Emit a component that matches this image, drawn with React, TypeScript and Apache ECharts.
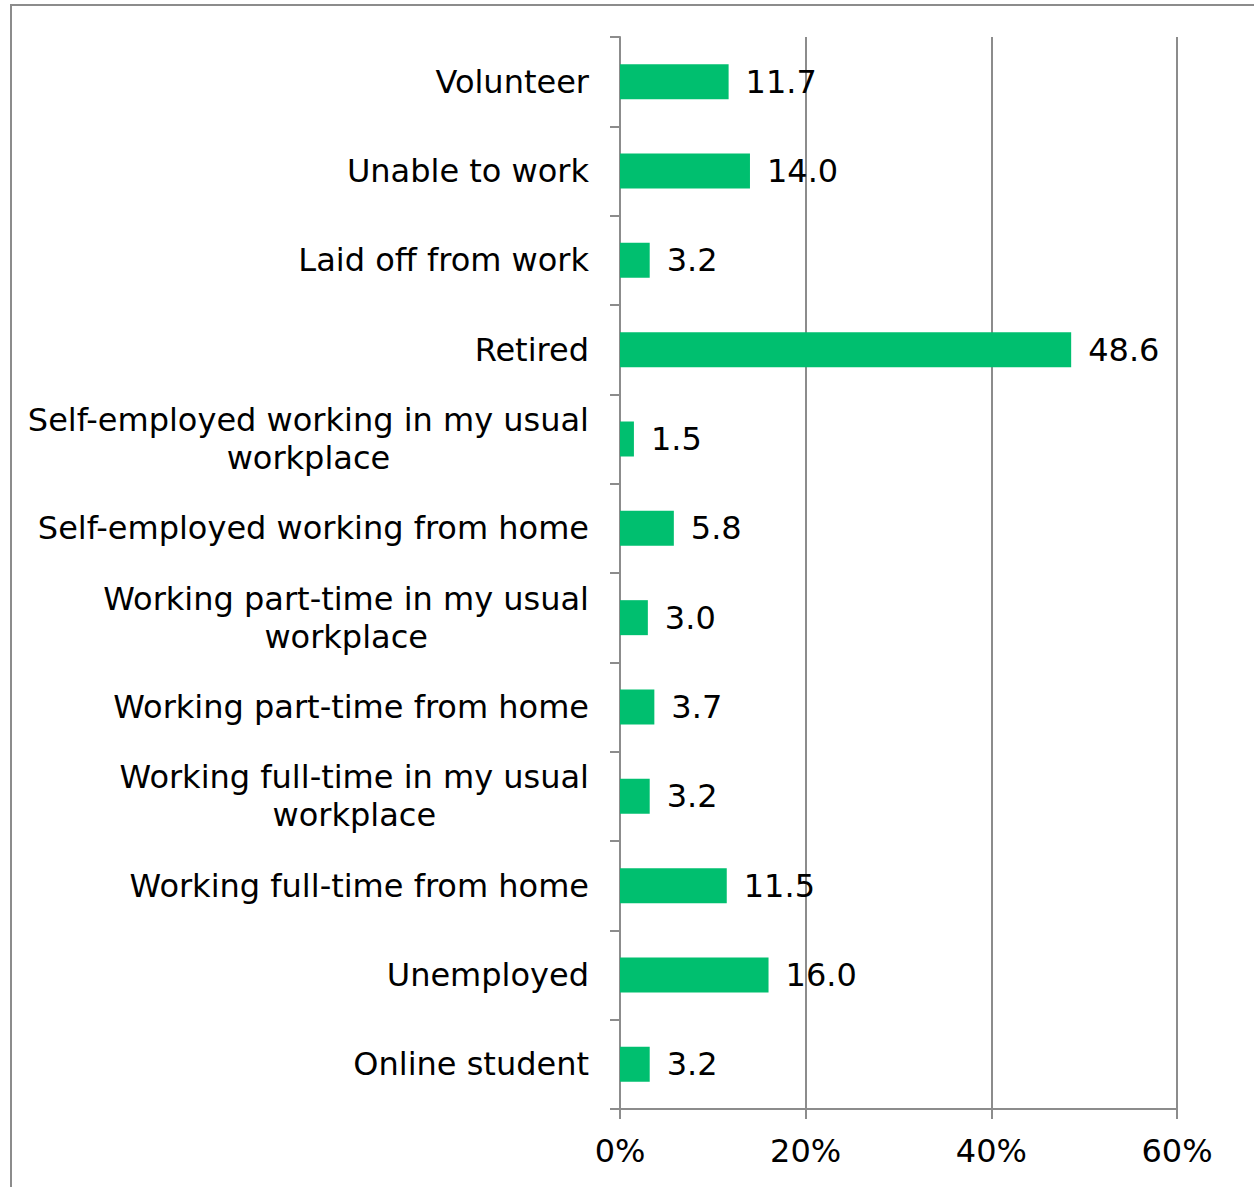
import React, { useEffect, useRef } from "react";
import * as echarts from "echarts";

const categories = [
  "Volunteer",
  "Unable to work",
  "Laid off from work",
  "Retired",
  "Self-employed working in my usual\nworkplace",
  "Self-employed working from home",
  "Working part-time in my usual\nworkplace",
  "Working part-time from home",
  "Working full-time in my usual\nworkplace",
  "Working full-time from home",
  "Unemployed",
  "Online student",
];
const values = [11.7, 14.0, 3.2, 48.6, 1.5, 5.8, 3.0, 3.7, 3.2, 11.5, 16.0, 3.2];
const xMin = 0;
const xMax = 60;
const xStep = 20;

const GRAY = "#8c8c8c";
const GREEN = "#00bf6f";
const LABEL_FONT = "DejaVu Sans, Verdana, sans-serif";
const FS = 32;

export default function App() {
  const ref = useRef<HTMLDivElement>(null);
  useEffect(() => {
    document.body.style.margin = "0";
    if (!ref.current) return;
    const chart = echarts.init(ref.current, null, { renderer: "svg" });
    chart.setOption({
      animation: false,
      backgroundColor: "#ffffff",
      graphic: [
        {
          type: "rect",
          shape: { x: 11, y: 5, width: 1400, height: 1400 },
          style: { fill: "none", stroke: GRAY, lineWidth: 2 },
          silent: true,
        },
      ],
      grid: { left: 620, right: 77, top: 37, bottom: 78, containLabel: false },
      xAxis: {
        type: "value",
        min: xMin,
        max: xMax,
        interval: xStep,
        axisLine: { show: true, lineStyle: { color: GRAY, width: 2 } },
        axisTick: { show: true, length: 10, lineStyle: { color: GRAY, width: 2 } },
        splitLine: { show: true, lineStyle: { color: GRAY, width: 2 } },
        axisLabel: {
          formatter: "{value}%",
          color: "#000",
          fontFamily: LABEL_FONT,
          fontSize: FS,
          margin: 26,
        },
      },
      yAxis: {
        type: "category",
        inverse: true,
        data: categories,
        axisLine: { show: true, lineStyle: { color: GRAY, width: 2 } },
        axisTick: { show: true, length: 10, interval: 0, lineStyle: { color: GRAY, width: 2 } },
        axisLabel: {
          interval: 0,
          margin: 31,
          color: "#000",
          fontFamily: LABEL_FONT,
          fontSize: FS,
          lineHeight: 38,
          formatter: (v: string) =>
            v
              .split("\n")
              .map((l) => `{c|${l}}`)
              .join("\n"),
          rich: {
            c: {
              align: "center",
              color: "#000",
              fontFamily: LABEL_FONT,
              fontSize: FS,
              lineHeight: 38,
            },
          },
        },
      },
      series: [
        {
          type: "bar",
          data: values,
          barWidth: 35,
          itemStyle: { color: GREEN },
          label: {
            show: true,
            position: "right",
            distance: 17,
            color: "#000",
            fontFamily: LABEL_FONT,
            fontSize: FS,
            formatter: (p: any) => Number(p.value).toFixed(1),
          },
        },
      ],
    });
    return () => chart.dispose();
  }, []);
  return <div ref={ref} style={{ width: 1254, height: 1187 }} />;
}
